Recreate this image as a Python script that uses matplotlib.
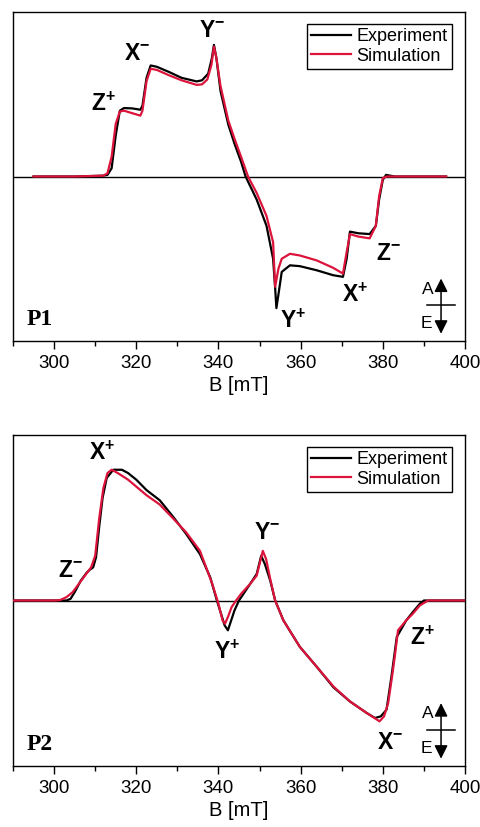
import matplotlib
matplotlib.use("Agg")
import matplotlib.pyplot as plt
from matplotlib.ticker import MultipleLocator

plt.rcParams['font.family'] = ['Liberation Sans', 'DejaVu Sans']
plt.rcParams['mathtext.fontset'] = 'custom'
plt.rcParams['mathtext.rm'] = 'Liberation Sans'
plt.rcParams['mathtext.bf'] = 'Liberation Sans:bold'

# ---------------- Data: panel P1 ----------------
p1_exp_B = [295, 305, 312, 313, 314, 315, 316, 317, 319, 321, 321.5, 322.5, 323.5, 325, 328, 331, 334.7,
            336, 337.5, 338.4, 338.9, 339.5, 340.5, 342.4, 343.9, 345.5, 346.6, 349.3, 351.7, 353.3,
            353.8, 354.1, 354.7, 355.4, 357.4, 359.8, 363.9, 367.9, 370.3, 371.2, 372, 374, 376.8,
            378.3, 379.1, 380, 380.8, 382, 383, 395.4]
p1_exp_v = [0, 0, 0.005, 0.01, 0.05, 0.25, 0.40, 0.416, 0.414, 0.406, 0.43, 0.60, 0.675, 0.667, 0.635, 0.60, 0.578,
            0.585, 0.625, 0.72, 0.80, 0.72, 0.52, 0.315, 0.20, 0.09, 0.0, -0.14, -0.30, -0.50,
            -0.68, -0.80, -0.70, -0.58, -0.54, -0.545, -0.57, -0.60, -0.61, -0.50, -0.335, -0.345, -0.35,
            -0.30, -0.14, -0.02, 0.01, 0.004, 0, 0]

p1_sim_B = [295, 305, 312, 313, 314, 315, 316, 317, 319, 321, 321.5, 322.5, 323.5, 325, 328, 331, 334.7,
            336, 337.3, 338.3, 338.9, 339.5, 340.5, 342.4, 343.9, 345.5, 347.2, 349.3, 351.7, 353.3,
            353.8, 354.6, 355.4, 357.4, 359.8, 363.9, 367.9, 370.3, 371.2, 372, 374, 376.8,
            378.3, 379.1, 380, 381, 395.4]
p1_sim_v = [0, 0, 0.005, 0.02, 0.12, 0.32, 0.395, 0.40, 0.385, 0.37, 0.40, 0.58, 0.655, 0.648, 0.615, 0.585, 0.557,
            0.56, 0.59, 0.68, 0.79, 0.72, 0.55, 0.34, 0.23, 0.12, 0.0, -0.10, -0.24, -0.40,
            -0.67, -0.56, -0.50, -0.47, -0.48, -0.51, -0.555, -0.59, -0.46, -0.35, -0.365, -0.376,
            -0.30, -0.12, -0.01, 0, 0]

# ---------------- Data: panel P2 ----------------
p2_exp_B = [290, 300, 303, 304, 305, 306.5, 308, 308.7, 309.5, 310.2, 311, 311.8, 312.8, 314.4, 316.5, 318,
            320, 322.5, 325.7, 329, 332.2, 335.5, 338, 339.5, 340.5, 341.5, 342.3, 343.9, 345, 347.7,
            349.3, 350.4, 351.3, 352.6, 353.8, 355.8, 359.8, 363.9, 368, 372, 376.1, 378.1, 379.5,
            380.9, 382.1, 383.4, 385.7, 387.3, 389, 390, 400]
p2_exp_v = [0, 0, 0, 0.01, 0.05, 0.12, 0.17, 0.186, 0.20, 0.26, 0.45, 0.62, 0.74, 0.79, 0.79, 0.77,
            0.73, 0.667, 0.606, 0.505, 0.40, 0.28, 0.14, 0.01, -0.07, -0.15, -0.18, -0.06, 0.0, 0.10,
            0.16, 0.27, 0.22, 0.12, 0.0, -0.12, -0.28, -0.40, -0.525, -0.61, -0.68, -0.71, -0.70,
            -0.66, -0.46, -0.22, -0.12, -0.07, -0.02, 0, 0]

p2_sim_B = [290, 300, 301.5, 303, 304.5, 306, 307.5, 309, 310, 311, 312, 313, 314, 315.5, 318, 322.5,
            325.7, 329, 332.2, 335.5, 338.5, 340, 341, 341.6, 342.3, 343.2, 344.3, 345.5, 347.7,
            349.3, 350.1, 350.8, 351.6, 352.6, 353.8, 355.8, 359.8, 363.9, 368, 372, 376.1, 379.2,
            380.3, 381.3, 382.3, 382.9, 383.7, 385.7, 387.3, 389, 391, 400]
p2_sim_v = [0, 0, 0.003, 0.02, 0.05, 0.10, 0.15, 0.20, 0.27, 0.50, 0.68, 0.77, 0.79, 0.77, 0.73, 0.636,
            0.58, 0.495, 0.41, 0.30, 0.10, -0.02, -0.12, -0.14, -0.10, -0.04, 0.0, 0.04, 0.10,
            0.15, 0.23, 0.30, 0.25, 0.13, 0.0, -0.12, -0.28, -0.40, -0.52, -0.61, -0.68, -0.73,
            -0.70, -0.62, -0.45, -0.34, -0.18, -0.12, -0.08, -0.03, 0, 0]

# ---------------- Annotation labels ----------------
p1_labels = [("Z", "+", 311.9, 0.44), ("X", "-", 320.2, 0.75), ("Y", "-", 338.4, 0.89),
             ("Y", "+", 358.1, -0.88), ("X", "+", 373.2, -0.72), ("Z", "-", 381.3, -0.47)]
p2_labels = [("X", "+", 311.6, 0.89), ("Z", "-", 303.9, 0.18), ("Y", "-", 351.8, 0.41),
             ("Y", "+", 342.0, -0.31), ("Z", "+", 389.7, -0.23), ("X", "-", 381.7, -0.86)]

x_ticks = [300, 320, 340, 360, 380, 400]
series_names = ["Experiment", "Simulation"]
RED = '#dc143c'

W, H = 481, 827
fig = plt.figure(figsize=(W / 100, H / 100), dpi=100)


def px_axes(left, top, right, bottom):
    return fig.add_axes([left / W, 1 - bottom / H, (right - left) / W, (bottom - top) / H])


def setup(ax, exp_B, exp_v, sim_B, sim_v, labels, tag):
    ax.axhline(0, color='black', lw=1.0, zorder=1)
    ax.plot(exp_B, exp_v, color='black', lw=1.6, label=series_names[0], zorder=3)
    ax.plot(sim_B, sim_v, color=RED, lw=1.6, label=series_names[1], zorder=4)
    ax.set_xlim(290, 400)
    ax.set_ylim(-1.0, 1.0)
    ax.set_yticks([])
    ax.set_xticks(x_ticks)
    ax.xaxis.set_minor_locator(MultipleLocator(10))
    ax.tick_params(axis='x', which='major', direction='out', length=6, width=1, labelsize=13.5, pad=4)
    ax.tick_params(axis='x', which='minor', direction='out', length=3.5, width=1)
    for s in ax.spines.values():
        s.set_linewidth(1.0)
    ax.set_xlabel("B [mT]", fontsize=14.5, labelpad=3)
    for letter, sign, bx, by in labels:
        ax.text(bx, by, r'$\mathbf{%s}^{\mathbf{%s}}$' % (letter, sign), fontsize=16.5,
                ha='center', va='center', zorder=5)
    ax.text(0.06, 0.066, tag, transform=ax.transAxes, fontsize=17, fontweight='bold',
            family=['Liberation Serif', 'DejaVu Serif'], ha='center', va='center')
    leg = ax.legend(loc='upper right', bbox_to_anchor=(0.971, 0.964), borderaxespad=0,
                    fontsize=13, frameon=True, fancybox=False, handlelength=2.2,
                    handletextpad=0.3, borderpad=0.25, labelspacing=0.12)
    leg.get_frame().set_edgecolor('black')
    leg.get_frame().set_linewidth(1.0)
    leg.get_frame().set_alpha(1)
    # A / E arrow marker
    ax.annotate('', xy=(0.947, 0.19), xytext=(0.947, 0.022), xycoords='axes fraction',
                arrowprops=dict(arrowstyle='<|-|>,head_length=0.5,head_width=0.25', color='black',
                                lw=1.1, mutation_scale=16, shrinkA=0, shrinkB=0))
    ax.plot([0.916, 0.978], [0.108, 0.108], color='black', lw=1.1, transform=ax.transAxes,
            clip_on=False)
    ax.text(0.918, 0.158, 'A', transform=ax.transAxes, fontsize=12.5, ha='center', va='center')
    ax.text(0.914, 0.054, 'E', transform=ax.transAxes, fontsize=12.5, ha='center', va='center')


ax1 = px_axes(13, 12, 465, 341)
setup(ax1, p1_exp_B, p1_exp_v, p1_sim_B, p1_sim_v, p1_labels, "P1")
ax2 = px_axes(13, 435, 465, 766)
setup(ax2, p2_exp_B, p2_exp_v, p2_sim_B, p2_sim_v, p2_labels, "P2")

fig.savefig("out.png", dpi=100)
